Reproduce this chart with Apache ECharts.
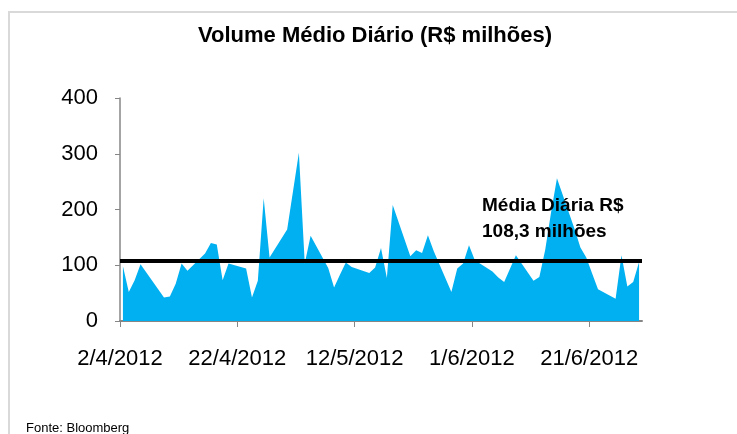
<!DOCTYPE html>
<html>
<head>
<meta charset="utf-8">
<script src="https://cdn.jsdelivr.net/npm/echarts@6/dist/echarts.min.js"></script>
<style>
  html, body { margin: 0; padding: 0; background: #fff; }
  #chart { width: 737px; height: 434px; }
</style>
</head>
<body>
<div id="chart"></div>
<script>
// ---- data ----
const titleText = "Volume Médio Diário (R$ milhões)";
const sourceText = "Fonte: Bloomberg";
const meanLabel = "Média Diária R$\n108,3 milhões";
const meanValue = 108.3;
const axisStart = "2012-04-02";
const axisEnd = "2012-06-30";
const xTickDates = ["2012-04-02", "2012-04-22", "2012-05-12", "2012-06-01", "2012-06-21"];
const yTicks = [0, 100, 200, 300, 400];

const dates = [
  "2012-04-02","2012-04-03","2012-04-04","2012-04-05",
  "2012-04-09","2012-04-10","2012-04-11","2012-04-12","2012-04-13",
  "2012-04-16","2012-04-17","2012-04-18","2012-04-19","2012-04-20",
  "2012-04-23","2012-04-24","2012-04-25","2012-04-26","2012-04-27",
  "2012-04-30","2012-05-02","2012-05-03","2012-05-04",
  "2012-05-07","2012-05-08","2012-05-09","2012-05-10","2012-05-11",
  "2012-05-14","2012-05-15","2012-05-16","2012-05-17","2012-05-18",
  "2012-05-21","2012-05-22","2012-05-23","2012-05-24","2012-05-25",
  "2012-05-28","2012-05-29","2012-05-30","2012-05-31","2012-06-01",
  "2012-06-04","2012-06-05","2012-06-06","2012-06-08",
  "2012-06-11","2012-06-12","2012-06-13","2012-06-14","2012-06-15",
  "2012-06-18","2012-06-19","2012-06-20","2012-06-21","2012-06-22",
  "2012-06-25","2012-06-26","2012-06-27","2012-06-28","2012-06-29"
];
const volumes = [
  98, 52, 73, 102,
  42, 44, 67, 103, 90,
  121, 140, 137, 73, 103,
  94, 42, 72, 220, 114,
  164, 302, 103, 153,
  95, 60, 83, 105, 97,
  86, 96, 131, 77, 208,
  116, 127, 122, 154, 125,
  52, 94, 103, 136, 109,
  89, 78, 70, 118,
  72, 79, 128, 195, 256,
  165, 132, 114, 85, 57,
  40, 118, 62, 70, 106
];

// ---- helpers ----
const DAY = 86400000;
const t0 = Date.parse(axisStart + "T00:00:00Z");
const dayOf = s => Math.round((Date.parse(s + "T00:00:00Z") - t0) / DAY);
const xMax = dayOf(axisEnd);
const fmtDate = v => {
  const d = new Date(t0 + Math.round(v) * DAY);
  return d.getUTCDate() + "/" + (d.getUTCMonth() + 1) + "/" + d.getUTCFullYear();
};
// Excel date axis: each day is a slot, the point sits in its middle
const seriesData = dates.map((d, i) => [dayOf(d) + 0.5, volumes[i]]);
const xTicks = xTickDates.map(dayOf);

const FONT = "Liberation Sans, Arial, sans-serif";
const chart = echarts.init(document.getElementById("chart"), null, { renderer: "canvas" });

chart.setOption({
  animation: false,
  backgroundColor: "#ffffff",
  grid: { left: 120, right: 95, top: 98, bottom: 113, containLabel: false },
  xAxis: {
    type: "value",
    min: 0,
    max: xMax,
    interval: 20,
    splitLine: { show: false },
    axisLine: { show: true, lineStyle: { color: "#868686", width: 2 } },
    axisTick: { show: true, inside: false, length: 6, customValues: xTicks,
                lineStyle: { color: "#868686", width: 1 } },
    axisLabel: { show: true, customValues: xTicks, margin: 27, fontSize: 22,
                 color: "#000", fontFamily: FONT,
                 formatter: v => fmtDate(v) }
  },
  yAxis: {
    type: "value",
    min: 0,
    max: 400,
    interval: 100,
    splitLine: { show: false },
    axisLine: { show: true, lineStyle: { color: "#868686", width: 1.5 } },
    axisTick: { show: true, inside: false, length: 5, lineStyle: { color: "#868686", width: 1 } },
    axisLabel: { margin: 22, fontSize: 22, color: "#000", fontFamily: FONT }
  },
  series: [
    {
      type: "line",
      data: seriesData,
      symbol: "none",
      lineStyle: { width: 0, color: "#00B0F0" },
      itemStyle: { color: "#00B0F0" },
      areaStyle: { color: "#00B0F0", opacity: 1 },
      silent: true,
      z: 2,
      markLine: {
        silent: true,
        symbol: ["none", "none"],
        label: { show: false },
        lineStyle: { color: "#000000", width: 4, type: "solid" },
        data: [{ yAxis: meanValue }],
        z: 5
      }
    }
  ],
  graphic: [
    {
      type: "polyline",
      shape: { points: [[9, 434], [9, 12], [737, 12]] },
      style: { stroke: "#d9d9d9", lineWidth: 2, fill: null },
      silent: true
    },
    {
      type: "text",
      x: 375, y: 36,
      style: { text: titleText, font: "bold 22px " + FONT, fill: "#000",
               textAlign: "center", textVerticalAlign: "middle" }
    },
    {
      type: "text",
      x: 482, y: 193,
      z: 10,
      style: { text: meanLabel, font: "bold 19px " + FONT, fill: "#000",
               textAlign: "left", textVerticalAlign: "top", lineHeight: 26 }
    },
    {
      type: "text",
      x: 26, y: 428,
      style: { text: sourceText, font: "13px " + FONT, fill: "#000",
               textAlign: "left", textVerticalAlign: "middle" }
    }
  ]
});
</script>
</body>
</html>
